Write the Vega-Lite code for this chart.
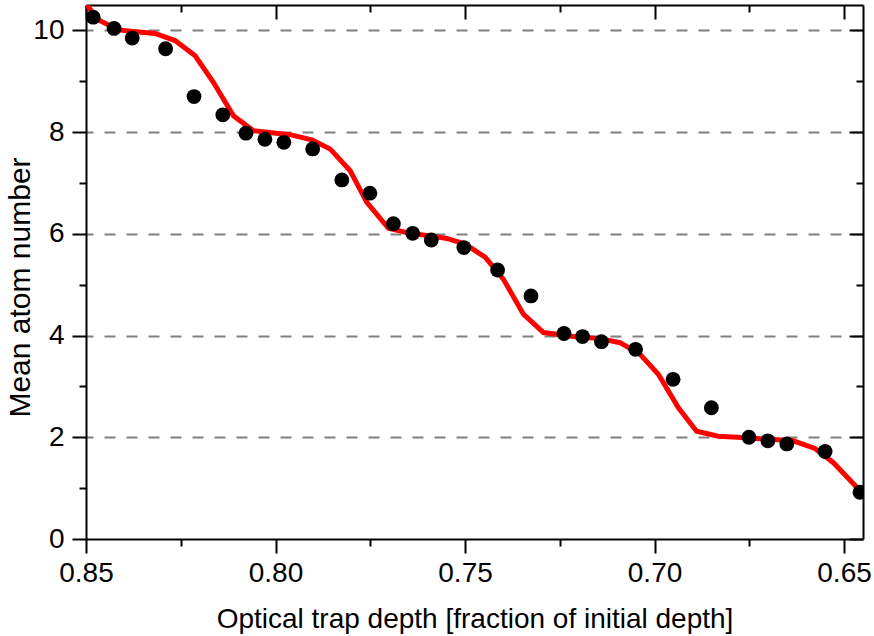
{
  "$schema": "https://vega.github.io/schema/vega-lite/v6.json",
  "width": 777,
  "height": 534,
  "autosize": {"type": "none"},
  "padding": {"left": 86, "top": 5, "right": 11, "bottom": 97},
  "background": "white",
  "config": {
    "view": {"stroke": null},
    "font": "Liberation Sans",
    "axis": {
      "domainColor": "black",
      "domainWidth": 2,
      "tickColor": "black",
      "tickWidth": 2,
      "labelColor": "black",
      "titleColor": "black",
      "labelFont": "Liberation Sans",
      "titleFont": "Liberation Sans",
      "labelFontSize": 28,
      "titleFontSize": 28,
      "titleFontWeight": "normal"
    }
  },
  "datasets": {
    "points": [
      {"depth": 0.8481, "atoms": 10.26},
      {"depth": 0.8426, "atoms": 10.04},
      {"depth": 0.8378, "atoms": 9.85},
      {"depth": 0.8290, "atoms": 9.64},
      {"depth": 0.8215, "atoms": 8.70},
      {"depth": 0.8139, "atoms": 8.34},
      {"depth": 0.8078, "atoms": 7.98},
      {"depth": 0.8028, "atoms": 7.86},
      {"depth": 0.7978, "atoms": 7.80},
      {"depth": 0.7902, "atoms": 7.67},
      {"depth": 0.7825, "atoms": 7.06},
      {"depth": 0.7751, "atoms": 6.80},
      {"depth": 0.7689, "atoms": 6.20},
      {"depth": 0.7638, "atoms": 6.01},
      {"depth": 0.7589, "atoms": 5.88},
      {"depth": 0.7503, "atoms": 5.73},
      {"depth": 0.7414, "atoms": 5.29},
      {"depth": 0.7326, "atoms": 4.78},
      {"depth": 0.7239, "atoms": 4.04},
      {"depth": 0.7190, "atoms": 3.98},
      {"depth": 0.7140, "atoms": 3.88},
      {"depth": 0.7050, "atoms": 3.73},
      {"depth": 0.6951, "atoms": 3.14},
      {"depth": 0.6850, "atoms": 2.58},
      {"depth": 0.6751, "atoms": 2.00},
      {"depth": 0.6701, "atoms": 1.93},
      {"depth": 0.6651, "atoms": 1.87},
      {"depth": 0.6550, "atoms": 1.72},
      {"depth": 0.6458, "atoms": 0.92}
    ],
    "fit": [
      {"depth": 0.8510, "atoms": 10.62},
      {"depth": 0.8468, "atoms": 10.21},
      {"depth": 0.8415, "atoms": 10.01},
      {"depth": 0.8375, "atoms": 9.98},
      {"depth": 0.8318, "atoms": 9.94},
      {"depth": 0.8265, "atoms": 9.80},
      {"depth": 0.8212, "atoms": 9.50},
      {"depth": 0.8164, "atoms": 8.98},
      {"depth": 0.8111, "atoms": 8.32},
      {"depth": 0.8059, "atoms": 8.03},
      {"depth": 0.7988, "atoms": 7.97},
      {"depth": 0.7962, "atoms": 7.95},
      {"depth": 0.7904, "atoms": 7.85},
      {"depth": 0.7856, "atoms": 7.67},
      {"depth": 0.7803, "atoms": 7.24},
      {"depth": 0.7759, "atoms": 6.62},
      {"depth": 0.7702, "atoms": 6.11},
      {"depth": 0.7645, "atoms": 6.01},
      {"depth": 0.7592, "atoms": 5.96},
      {"depth": 0.7548, "atoms": 5.91},
      {"depth": 0.7500, "atoms": 5.80},
      {"depth": 0.7447, "atoms": 5.54},
      {"depth": 0.7399, "atoms": 5.11},
      {"depth": 0.7346, "atoms": 4.42},
      {"depth": 0.7293, "atoms": 4.06},
      {"depth": 0.7214, "atoms": 3.98},
      {"depth": 0.7144, "atoms": 3.94},
      {"depth": 0.7091, "atoms": 3.86},
      {"depth": 0.7038, "atoms": 3.63},
      {"depth": 0.6990, "atoms": 3.24},
      {"depth": 0.6937, "atoms": 2.58},
      {"depth": 0.6889, "atoms": 2.12},
      {"depth": 0.6832, "atoms": 2.02},
      {"depth": 0.6757, "atoms": 1.99},
      {"depth": 0.6634, "atoms": 1.93},
      {"depth": 0.6577, "atoms": 1.78},
      {"depth": 0.6528, "atoms": 1.50},
      {"depth": 0.6449, "atoms": 0.88}
    ]
  },
  "resolve": {"axis": {"x": "independent", "y": "independent"}},
  "layer": [
    {
      "data": {"name": "fit"},
      "mark": {"type": "line", "color": "#ff0000", "strokeWidth": 5, "clip": true},
      "encoding": {
        "x": {
          "field": "depth", "type": "quantitative",
          "scale": {"domain": [0.645, 0.85], "reverse": true, "nice": false, "zero": false},
          "axis": {
            "orient": "top", "title": null, "labels": false, "grid": false,
            "values": [0.85, 0.825, 0.8, 0.775, 0.75, 0.725, 0.7, 0.675, 0.65],
            "tickSize": {"condition": {"test": "abs(datum.value*20 - round(datum.value*20)) < 0.001", "value": -14}, "value": -7}
          }
        },
        "y": {
          "field": "atoms", "type": "quantitative",
          "scale": {"domain": [0, 10.5], "nice": false, "zero": true},
          "axis": {
            "orient": "right", "title": null, "labels": false, "grid": false,
            "values": [0, 1, 2, 3, 4, 5, 6, 7, 8, 9, 10],
            "tickSize": {"condition": {"test": "datum.value % 2 == 0", "value": -14}, "value": -7}
          }
        }
      }
    },
    {
      "data": {"name": "points"},
      "mark": {"type": "circle", "color": "black", "opacity": 1, "size": 220, "clip": true},
      "encoding": {
        "x": {
          "field": "depth", "type": "quantitative",
          "scale": {"domain": [0.645, 0.85], "reverse": true, "nice": false, "zero": false},
          "axis": {
            "orient": "bottom",
            "title": "Optical trap depth [fraction of initial depth]",
            "grid": false,
            "values": [0.85, 0.825, 0.8, 0.775, 0.75, 0.725, 0.7, 0.675, 0.65],
            "format": ".2f",
            "labelExpr": "abs(datum.value*20 - round(datum.value*20)) < 0.001 ? datum.label : ''",
            "tickSize": {"condition": {"test": "abs(datum.value*20 - round(datum.value*20)) < 0.001", "value": 14}, "value": 7},
            "labelPadding": 6,
            "titlePadding": 18,
            "labelFlush": false
          }
        },
        "y": {
          "field": "atoms", "type": "quantitative",
          "scale": {"domain": [0, 10.5], "nice": false, "zero": true},
          "axis": {
            "orient": "left",
            "title": "Mean atom number",
            "titleFontSize": 30,
            "titleY": 282,
            "values": [0, 1, 2, 3, 4, 5, 6, 7, 8, 9, 10],
            "labelExpr": "datum.value % 2 == 0 ? datum.label : ''",
            "tickSize": {"condition": {"test": "datum.value % 2 == 0", "value": 14}, "value": 7},
            "grid": true,
            "gridColor": "#808080",
            "gridWidth": 2,
            "gridDash": [11, 11],
            "gridOpacity": {"condition": {"test": "datum.value % 2 == 0 && datum.value > 0", "value": 1}, "value": 0},
            "labelPadding": 8,
            "titlePadding": -3,
            "labelFlush": false
          }
        }
      }
    }
  ]
}
